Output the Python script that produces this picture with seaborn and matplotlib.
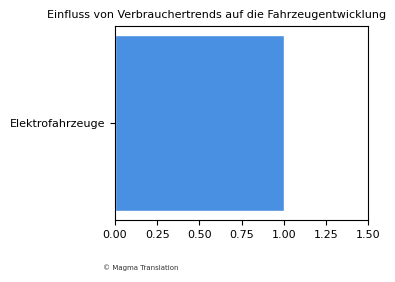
import matplotlib
matplotlib.use("Agg")
import matplotlib.pyplot as plt
import seaborn as sns
import pandas as pd

categories = ["Elektrofahrzeuge"]
values = [1.0]
xticks = [0.0, 0.25, 0.5, 0.75, 1.0, 1.25, 1.5]

sns.set_style("white")
plt.rcParams['font.family'] = ['DejaVu Sans']
plt.rcParams['text.color'] = 'black'
plt.rcParams['xtick.color'] = 'black'
plt.rcParams['ytick.color'] = 'black'

df = pd.DataFrame({"cat": categories, "val": values})
fig = plt.figure(figsize=(3.95, 2.82), dpi=100)
ax = fig.add_axes([115/395, 1-220/282, (368-115)/395, (220-26)/282])
sns.barplot(data=df, x="val", y="cat", orient="h", color="#4a90e2", width=0.8,
            saturation=1, ax=ax)
ax.set_ylim(0.44, -0.44)
ax.set_xlim(0, 1.5)
ax.set_xticks(xticks)
ax.set_xticklabels([f"{t:.2f}" for t in xticks])
ax.set_xlabel("")
ax.set_ylabel("")
ax.tick_params(axis="both", labelsize=8, length=3.5, width=0.8, left=True, bottom=True,
               colors="black")
for s in ax.spines.values():
    s.set_visible(True)
    s.set_color("black")
    s.set_linewidth(0.8)
fig.text(217/395, 1-15/282, "Einfluss von Verbrauchertrends auf die Fahrzeugentwicklung",
         fontsize=8, ha="center", va="center", color="black")
fig.text(103/395, 1-268/282, "© Magma Translation", fontsize=5, ha="left", va="center",
         color="#333333")
fig.savefig("out.png", dpi=100)
